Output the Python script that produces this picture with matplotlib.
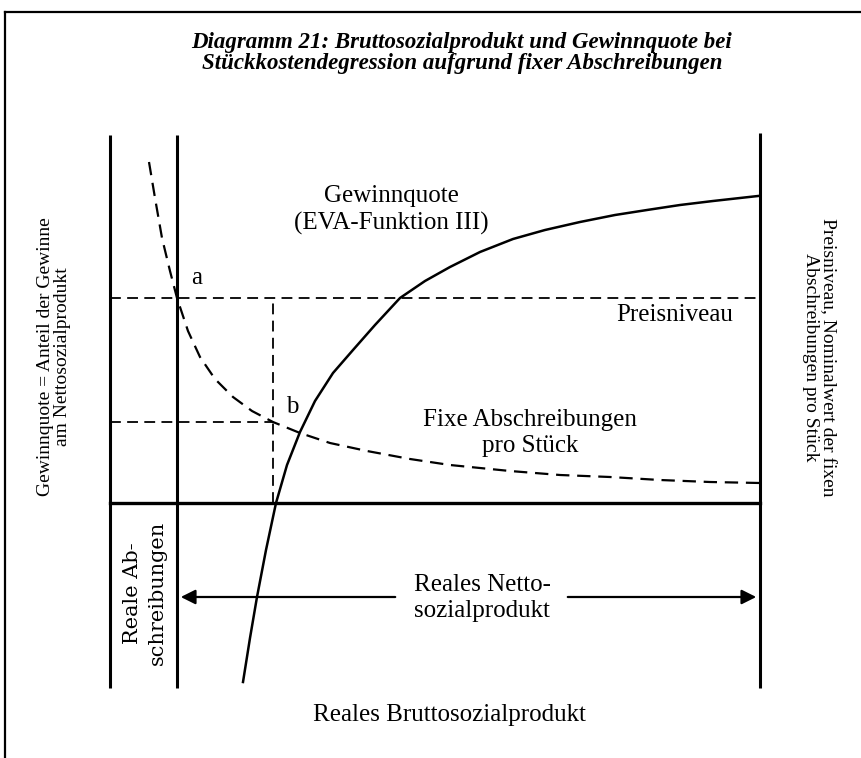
import matplotlib
matplotlib.use("Agg")
import matplotlib.pyplot as plt

plt.rcParams['font.family'] = ['Liberation Serif', 'DejaVu Serif']

# positions of the main lines (units: real gross product, 0 = origin)
x_abschr = 67          # real depreciation boundary
x_end = 650            # right axis
y_preis = 205          # price level
y_b = 81               # fixed depreciation per unit at point b
x_b = 163
y_arrow = -94
y_bottom = -185
y_top = 368

# fixed depreciation per unit (dashed hyperbola)
fix_x = [39, 45, 52, 60, 67, 78, 90, 105, 123, 142, 163, 190, 220, 257, 300, 340, 400, 450, 500, 550, 600, 650]
fix_y = [341, 305, 265, 232, 205, 172, 146, 124, 106, 92, 81, 70, 60, 52, 44, 38, 32, 28, 26, 23, 21, 20]

# profit share (EVA function III)
gq_x = [133, 140, 147, 156, 166, 177, 190, 205, 223, 243, 265, 290, 315, 340, 370, 403, 435, 470, 505, 537, 570, 603, 648]
gq_y = [-179, -135, -94, -47, 0, 38, 71, 102, 130, 153, 178, 205, 222, 236, 251, 264, 273, 281, 288, 293, 298, 302, 307]

fig = plt.figure(figsize=(8.62, 7.58), dpi=100)
ax = fig.add_axes([0, 0, 1, 1])
ax.set_xlim(-110, 752)
ax.set_ylim(-255, 503)
ax.axis('off')

# outer frame (top and left only visible)
ax.plot([-105, 752], [491, 491], color='black', lw=1.6)
ax.plot([-105, -105], [491, -255], color='black', lw=1.6)

# axes
for xv, top in [(0, y_top), (x_abschr, y_top), (x_end, y_top + 2)]:
    ax.plot([xv, xv], [y_bottom, top], color='black', lw=2.2, solid_capstyle='butt')
ax.plot([0, x_end], [0, 0], color='black', lw=2.4)

dash = (0, (6, 3.5))
ax.plot([0, x_end], [y_preis, y_preis], color='black', lw=1.3, linestyle=dash)
ax.plot([0, x_b], [y_b, y_b], color='black', lw=1.3, linestyle=dash)
ax.plot([x_b, x_b], [0, y_preis], color='black', lw=1.3, linestyle=dash)

# curves
ax.plot(fix_x, fix_y, color='black', lw=1.6, linestyle=dash)
ax.plot(gq_x, gq_y, color='black', lw=1.8)

# double arrow for real net product
ax.annotate('', xy=(x_abschr + 1, y_arrow), xytext=(288, y_arrow),
            arrowprops=dict(arrowstyle='-|>', color='black', lw=1.6, mutation_scale=22))
ax.annotate('', xy=(x_end - 1, y_arrow), xytext=(455, y_arrow),
            arrowprops=dict(arrowstyle='-|>', color='black', lw=1.6, mutation_scale=22))

fs = 18
ax.text(352, 450, 'Diagramm 21: Bruttosozialprodukt und Gewinnquote bei\n'
        'Stückkostendegression aufgrund fixer Abschreibungen',
        ha='center', va='center', fontsize=16.5, fontweight='bold', fontstyle='italic',
        linespacing=0.95)
ax.text(87, 225, 'a', ha='center', va='center', fontsize=fs)
ax.text(182, 96, 'b', ha='center', va='center', fontsize=fs)
ax.text(281, 293, 'Gewinnquote\n(EVA-Funktion III)', ha='center', va='center',
        fontsize=fs, linespacing=1.25)
ax.text(565, 188, 'Preisniveau', ha='center', va='center', fontsize=fs)
ax.text(420, 70, 'Fixe Abschreibungen\npro Stück', ha='center', va='center',
        fontsize=fs, linespacing=1.25)
ax.text(372, -95, 'Reales Netto-\nsozialprodukt', ha='center', va='center',
        fontsize=fs, linespacing=1.25)
ax.text(339, -212, 'Reales Bruttosozialprodukt', ha='center', va='center', fontsize=fs)
ax.text(-56, 146, 'Gewinnquote = Anteil der Gewinne\nam Nettosozialprodukt',
        ha='center', va='center', rotation=90, fontsize=14, linespacing=1.05)
ax.text(709, 146, 'Preisniveau, Nominalwert der fixen\nAbschreibungen pro Stück',
        ha='center', va='center', rotation=270, fontsize=14, linespacing=1.05)
ax.text(35, -90, 'Reale Ab-\nschreibungen', ha='center', va='center', rotation=90,
        fontsize=15, family='DejaVu Serif', linespacing=1.35)

fig.savefig('out.png', dpi=100)
